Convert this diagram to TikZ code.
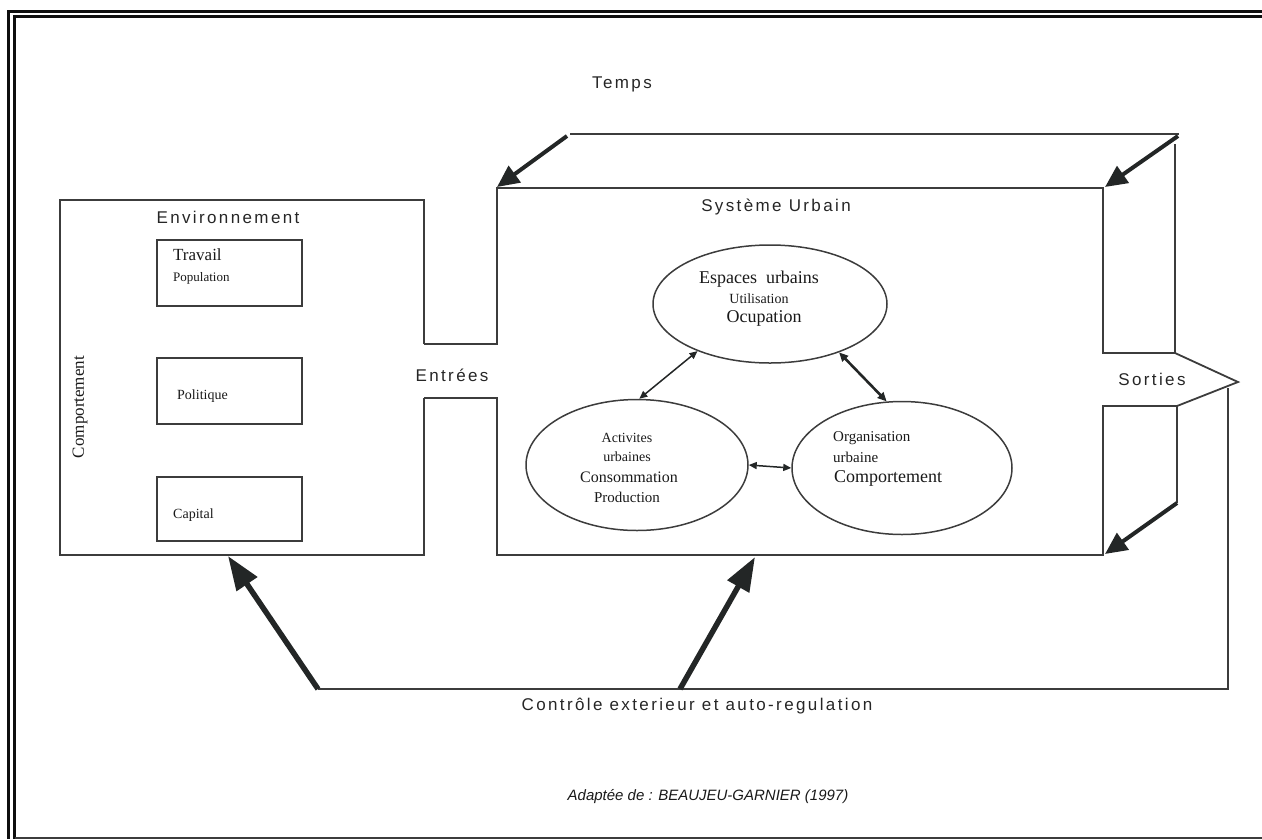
\documentclass[tikz,border=0pt]{standalone}
\usepackage{fontspec}
\setmainfont{Liberation Serif}
\setsansfont{Liberation Sans}
\usetikzlibrary{arrows.meta,shapes.geometric}
\definecolor{linec}{RGB}{60,60,60}
\definecolor{arrc}{RGB}{35,38,38}
\definecolor{framec}{RGB}{15,15,15}
\begin{document}
\begin{tikzpicture}[x=1pt,y=-1pt,
  ln/.style={draw=linec, line width=1.8pt},
  timearrow/.style={draw=arrc, line width=4pt, -{Triangle[length=22pt,width=20pt]}},
  ctrlarrow/.style={draw=arrc, line width=5.5pt, -{Triangle[length=34pt,width=24pt]}},
  duo/.style={draw=arrc, line width=1.5pt, {Triangle[length=8pt,width=7pt]}-{Triangle[length=8pt,width=7pt]}},
  duothick/.style={draw=arrc, line width=2.6pt, {Triangle[length=9pt,width=8pt]}-{Triangle[length=9pt,width=8pt]}},
  sanslbl/.style={inner sep=0pt, text=black!85, font=\sffamily\fontsize{17}{19}\selectfont\addfontfeatures{LetterSpace=14}},
  seriflbl/.style={inner sep=0pt, text=black!90},
  oval/.style={ellipse, draw=linec, line width=1.5pt, inner sep=0pt},
  subbox/.style={draw=linec, line width=1.8pt, inner sep=0pt}
]
\useasboundingbox (0,0) rectangle (1262,839);
% frame
\draw[framec, line width=3pt] (8.5,839) -- (8.5,11.5) -- (1262,11.5);
\draw[framec, line width=3pt] (14.5,839) -- (14.5,16.5) -- (1262,16.5);
\draw[linec, line width=2pt] (14.5,838) -- (1262,838);

% environment box with channel and urban system box
\draw[ln] (424,344) -- (424,200) -- (60,200) -- (60,555) -- (424,555) -- (424,398);
\draw[ln] (424,344) -- (497,344) -- (497,188) -- (1103,188) -- (1103,353) -- (1175,353)
  -- (1238,382) -- (1177,406) -- (1103,406) -- (1103,555) -- (497,555) -- (497,398) -- (424,398);
% back of the box
\draw[ln] (570,134) -- (1179,134);
\draw[ln] (1175,144) -- (1175,353);
\draw[ln] (1177,406) -- (1177,503);

% inner boxes
\node[subbox, minimum width=145, minimum height=66] (trav) at (229.5,273) {};
\node[subbox, minimum width=145, minimum height=66] (poli) at (229.5,391) {};
\node[subbox, minimum width=145, minimum height=64] (capi) at (229.5,509) {};

% ellipses
\node[oval, minimum width=234, minimum height=118] (esp) at (770,304) {};
\node[oval, minimum width=222, minimum height=131] (act) at (637,465) {};
\node[oval, minimum width=220, minimum height=133] (org) at (902,468) {};

% connectors between ellipses
\draw[duo] (esp.213) -- (act.88);
\draw[duothick] (esp.325) -- (org.103);
\draw[duo] (act.east) -- (org.west);

% time arrows
\coordinate (t1s) at (567,136); \coordinate (t1e) at (497,187);
\coordinate (t2s) at (1178,136); \coordinate (t2e) at (1105,187);
\coordinate (t3s) at (1177,503); \coordinate (t3e) at (1105,554);
\draw[timearrow] (t1s) -- (t1e);
\draw[timearrow] (t2s) -- (t2e);
\draw[timearrow] (t3s) -- (t3e);

% feedback loop
\coordinate (fbtop) at (1228,388);
\coordinate (fbcorner) at (1228,689);
\coordinate (fbleft) at (318,689);
\coordinate (fbmid) at (680,689);
\coordinate (envtip) at (228,556);
\coordinate (systip) at (755,557);
\draw[ln] (fbtop) -- (fbcorner) -- (fbleft);
\draw[ctrlarrow] (fbleft) -- (envtip);
\draw[ctrlarrow] (fbmid) -- (systip);

% sans labels
\node[sanslbl] (temps) at (622,84) {Temps};
\node[sanslbl] (envt) at (228,217) {Environnement};
\node[sanslbl] (sysu) at (776,207) {Système Urbain};
\node[sanslbl] (entr) at (452,375) {Entrées};
\node[sanslbl] (sort) at (1152,379) {Sorties};
\node[sanslbl] (ctrl) at (697,706) {Contrôle exterieur et auto-regulation};
\node[inner sep=0pt, text=black!90, font=\sffamily\itshape\fontsize{15}{18}\selectfont] (src) at (708,797) {Adaptée de : BEAUJEU-GARNIER (1997)};

% serif labels in boxes
\node[seriflbl, anchor=west, font=\fontsize{17}{19}\selectfont] at (173,255) {Travail};
\node[seriflbl, anchor=west, font=\fontsize{13}{15}\selectfont] at (173,278) {Population};
\node[seriflbl, anchor=west, font=\fontsize{14}{16}\selectfont] at (177,396) {Politique};
\node[seriflbl, anchor=west, font=\fontsize{14}{16}\selectfont] at (173,515) {Capital};
\node[seriflbl, rotate=90, font=\fontsize{17}{19}\selectfont] at (80,407) {Comportement};

% serif labels in ellipses
\node[seriflbl, font=\fontsize{18}{20}\selectfont] at (759,279) {Espaces\ \ urbains};
\node[seriflbl, font=\fontsize{14}{16}\selectfont] at (759,299) {Utilisation};
\node[seriflbl, font=\fontsize{18}{20}\selectfont] at (764,318) {Ocupation};
\node[seriflbl, font=\fontsize{14}{16}\selectfont] at (627,438) {Activites};
\node[seriflbl, font=\fontsize{14}{16}\selectfont] at (627,457) {urbaines};
\node[seriflbl, font=\fontsize{16}{18}\selectfont] at (629,477) {Consommation};
\node[seriflbl, font=\fontsize{15}{17}\selectfont] at (627,497) {Production};
\node[seriflbl, anchor=west, font=\fontsize{15}{17}\selectfont] at (833,438) {Organisation};
\node[seriflbl, anchor=west, font=\fontsize{15}{17}\selectfont] at (833,457) {urbaine};
\node[seriflbl, anchor=west, font=\fontsize{18}{20}\selectfont] at (834,478) {Comportement};
\end{tikzpicture}
\end{document}
